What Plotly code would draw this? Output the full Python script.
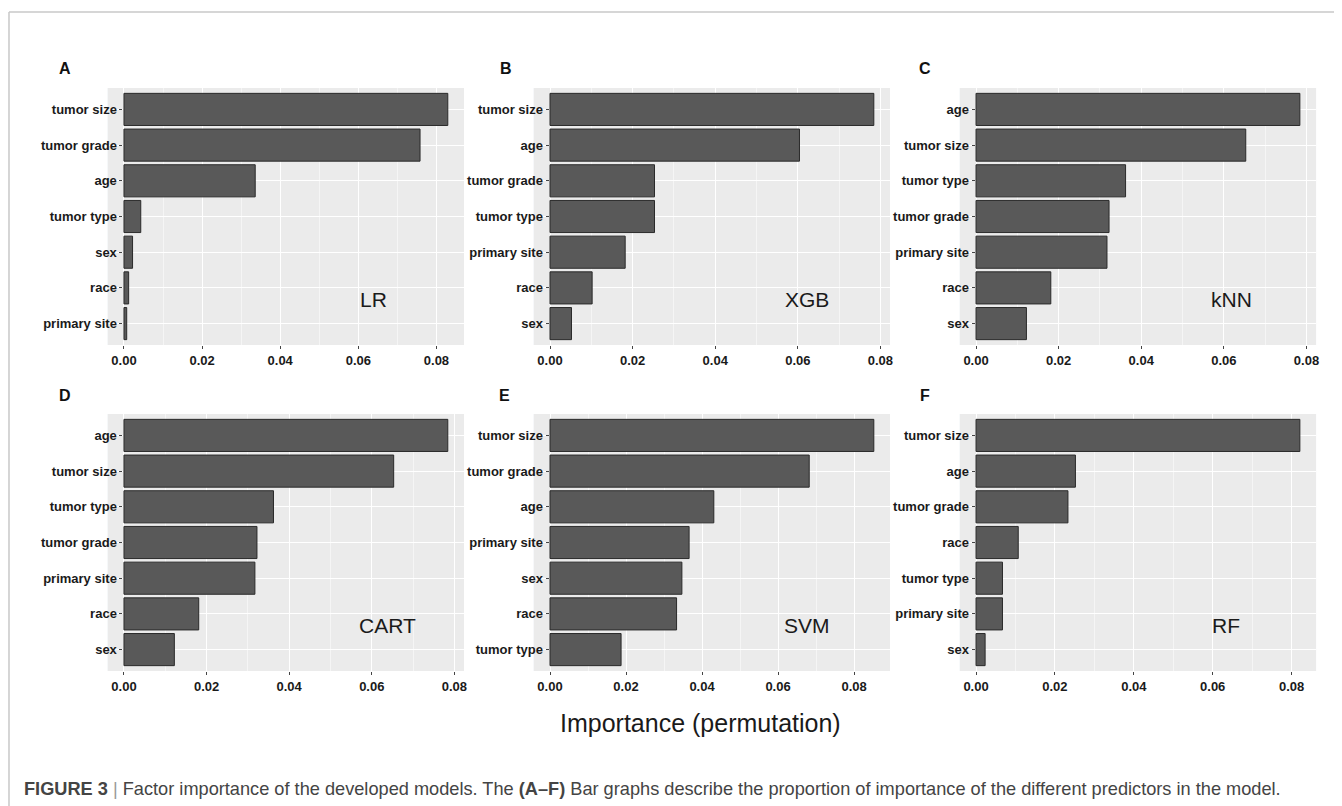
import plotly.graph_objects as go

# page body has an 8px margin; the figure is placed at (8, 8) in the window
OX, OY = 8, 8
W, H = 1342 - OX, 806 - OY

# ---------------- data ----------------
panel_letters = ["A", "B", "C", "D", "E", "F"]
model_names = ["LR", "XGB", "kNN", "CART", "SVM", "RF"]

lr_vars = ["tumor size", "tumor grade", "age", "tumor type", "sex", "race", "primary site"]
lr_vals = [0.0829, 0.0758, 0.0336, 0.0043, 0.0022, 0.0012, 0.0007]

xgb_vars = ["tumor size", "age", "tumor grade", "tumor type", "primary site", "race", "sex"]
xgb_vals = [0.0784, 0.0604, 0.0253, 0.0253, 0.0182, 0.0102, 0.0052]

knn_vars = ["age", "tumor size", "tumor type", "tumor grade", "primary site", "race", "sex"]
knn_vals = [0.0784, 0.0653, 0.0362, 0.0322, 0.0317, 0.0181, 0.0122]

cart_vars = ["age", "tumor size", "tumor type", "tumor grade", "primary site", "race", "sex"]
cart_vals = [0.0784, 0.0653, 0.0362, 0.0322, 0.0317, 0.0181, 0.0122]

svm_vars = ["tumor size", "tumor grade", "age", "primary site", "sex", "race", "tumor type"]
svm_vals = [0.0852, 0.0682, 0.0431, 0.0366, 0.0347, 0.0333, 0.0187]

rf_vars = ["tumor size", "age", "tumor grade", "race", "tumor type", "primary site", "sex"]
rf_vals = [0.0821, 0.0252, 0.0233, 0.0107, 0.0067, 0.0067, 0.0023]

x_tickvals = [0.0, 0.02, 0.04, 0.06, 0.08]
x_title = "Importance (permutation)"
caption = ("<b>FIGURE 3</b> <span style='color:#999'>|</span> Factor importance of the developed models. "
           "The <b>(A–F)</b> Bar graphs describe the proportion of importance of the different "
           "predictors in the model.")

panels = [
    (lr_vars, lr_vals), (xgb_vars, xgb_vals), (knn_vars, knn_vals),
    (cart_vars, cart_vals), (svm_vars, svm_vals), (rf_vars, rf_vals),
]

# ---------------- layout geometry (window pixels) ----------------
col_px = [(108, 465), (535, 892), (962, 1319)]
row_px = [(88, 345), (414, 671)]
letter_pos = [(65, 69), (507, 69), (927, 69), (65, 395), (506, 395), (927, 395)]
model_pos = [(374, 299), (809, 299), (1234, 299), (388, 625), (809, 625), (1229, 625)]


def px(x):
    return (x - OX) / W


def py(y):
    return 1 - (y - OY) / H


TICK_FONT = dict(family="Liberation Sans Narrow, Arial Narrow, Liberation Sans, Arial",
                 size=13, color="#1a1a1a", weight="bold")

fig = go.Figure()
layout = dict(
    width=W, height=H,
    margin=dict(l=0, r=0, t=0, b=0),
    paper_bgcolor="white",
    showlegend=False,
    annotations=[], shapes=[],
)

for i, (vars_, vals) in enumerate(panels):
    r, c = divmod(i, 3)
    L, R = col_px[c]
    T, B = row_px[r]
    n = i + 1
    xa = "x" if n == 1 else f"x{n}"
    ya = "y" if n == 1 else f"y{n}"
    xkey = "xaxis" if n == 1 else f"xaxis{n}"
    ykey = "yaxis" if n == 1 else f"yaxis{n}"

    vmax = max(vals)
    r0, r1 = -0.05 * vmax, 1.05 * vmax
    zero_px = L + (0 - r0) / (r1 - r0) * (R - L)

    fig.add_trace(go.Bar(
        x=vals, y=vars_, orientation="h", xaxis=xa, yaxis=ya,
        marker=dict(color="#595959", line=dict(color="#2a2a2a", width=1)),
        width=0.9, hoverinfo="x+y",
    ))

    layout[xkey] = dict(
        domain=[px(L), px(R)], anchor=ya, range=[r0, r1],
        tickvals=x_tickvals, tickformat=".2f",
        showgrid=True, gridcolor="white", gridwidth=1.2,
        minor=dict(dtick=0.01, tick0=0, showgrid=True, gridcolor="#F5F5F5", gridwidth=0.6),
        zeroline=False, showline=False,
        ticks="outside", ticklen=3, tickcolor="#444", tickwidth=1,
        tickfont=TICK_FONT,
    )
    layout[ykey] = dict(
        domain=[py(B), py(T)], anchor="free", position=px(zero_px - 1.5),
        type="category", categoryorder="array", categoryarray=vars_,
        range=[len(vars_) - 0.4, -0.6],
        showgrid=True, gridcolor="white", gridwidth=1.2,
        zeroline=False, showline=False,
        ticks="outside", ticklen=3, tickcolor="#444", tickwidth=1,
        tickfont=TICK_FONT,
    )
    # panel background
    layout["shapes"].append(dict(
        type="rect", xref="paper", yref="paper", layer="below",
        x0=px(L), x1=px(R), y0=py(B), y1=py(T),
        fillcolor="#EBEBEB", line=dict(width=0),
    ))
    lx, ly = letter_pos[i]
    layout["annotations"].append(dict(
        x=px(lx), y=py(ly), xref="paper", yref="paper", text=f"<b>{panel_letters[i]}</b>",
        showarrow=False, xanchor="center", yanchor="middle",
        font=dict(family="Liberation Sans, Arial", size=16, color="#111"),
    ))
    mx, my = model_pos[i]
    layout["annotations"].append(dict(
        x=px(mx), y=py(my), xref="paper", yref="paper", text=model_names[i],
        showarrow=False, xanchor="center", yanchor="middle",
        font=dict(family="Liberation Sans, Arial", size=21, color="#1a1a1a"),
    ))

layout["annotations"].append(dict(
    x=px(702), y=py(723), xref="paper", yref="paper", text=x_title,
    showarrow=False, xanchor="center", yanchor="middle",
    font=dict(family="Liberation Sans, Arial", size=25, color="#1a1a1a"),
))
layout["annotations"].append(dict(
    x=px(22), y=py(789), xref="paper", yref="paper", text=caption,
    showarrow=False, xanchor="left", yanchor="middle",
    font=dict(family="Liberation Sans, Arial", size=18.2, color="#444"),
))
# figure frame (top and left lines)
layout["shapes"].append(dict(type="line", xref="paper", yref="paper",
                             x0=px(9), x1=1, y0=py(12), y1=py(12),
                             line=dict(color="#C8C8C8", width=1.5)))
layout["shapes"].append(dict(type="line", xref="paper", yref="paper",
                             x0=px(9), x1=px(9), y0=py(12), y1=0,
                             line=dict(color="#C8C8C8", width=1.5)))

fig.update_layout(**layout)
fig.write_html("out.html")
